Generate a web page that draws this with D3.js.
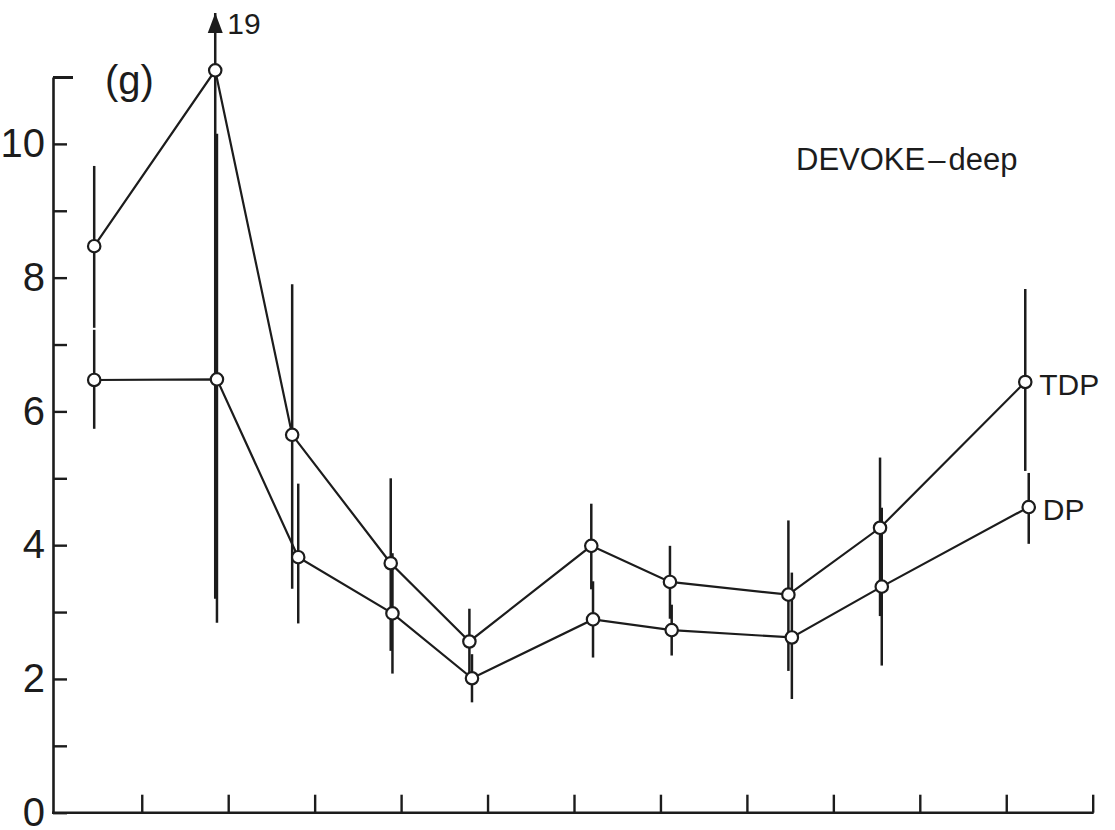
<!DOCTYPE html>
<html>
<head>
<meta charset="utf-8">
<script src="https://cdn.jsdelivr.net/npm/d3@7/dist/d3.min.js"></script>
<style>
  html, body { margin: 0; padding: 0; background: #ffffff; }
  svg { display: block; }
  text { font-family: "Liberation Sans", Arial, Helvetica, sans-serif; fill: #1c1c1c; }
</style>
</head>
<body>
<svg id="chart" width="1115" height="830"></svg>
<script>
// Sampling dates (position along the year axis, 0-12) for each series
const dateTDP = [0.45, 1.85, 2.74, 3.88, 4.79, 6.20, 7.11, 8.48, 9.54, 11.22];
const dateDP  = [0.45, 1.87, 2.81, 3.90, 4.82, 6.22, 7.13, 8.52, 9.56, 11.26];

// Mean values and the ends of their range bars
const tdp   = [8.47, 11.10, 5.65, 3.73, 2.56, 3.99, 3.45, 3.26, 4.26, 6.44];
const tdpHi = [9.67, 19.0, 7.90, 5.00, 3.05, 4.62, 3.99, 4.37, 5.31, 7.83];
const tdpLo = [7.25, 3.20, 3.35, 2.42, 2.05, 3.34, 2.90, 2.12, 2.94, 5.11];

const dp    = [6.47, 6.48, 3.82, 2.98, 2.01, 2.89, 2.73, 2.62, 3.38, 4.57];
const dpHi  = [7.22, 10.15, 4.92, 3.88, 2.37, 3.46, 3.11, 3.59, 4.56, 5.08];
const dpLo  = [5.74, 2.84, 2.83, 2.08, 1.65, 2.32, 2.35, 1.70, 2.20, 4.02];

// Axis ticks
const yTicks = [0, 1, 2, 3, 4, 5, 6, 7, 8, 9, 10, 11];
const yLabels = [0, 2, 4, 6, 8, 10];
const xTicks = [1, 2, 3, 4, 5, 6, 7, 8, 9, 10, 11, 12];

const seriesNames = ["TDP", "DP"];
const title = "DEVOKE";
const subtitle = "deep";
const unitLabel = "(g)";

const ink = "#1c1c1c";
const svg = d3.select("#chart");

const x = d3.scaleLinear().domain([0, 12]).range([55.3, 1092.7]);
const y = d3.scaleLinear().domain([0, 11]).range([812.7, 77]);
const yAxisX = 53;
const yCeil = y.invert(13);   // highest value that fits on the page

// ---- Y axis (ticks pointing inward, labels every 2) ----
const yAxis = d3.axisLeft(y)
  .tickValues(yTicks)
  .tickSizeInner(-14)
  .tickSizeOuter(0)
  .tickPadding(8)
  .tickFormat(d => yLabels.includes(d) ? d : "");

const gy = svg.append("g")
  .attr("transform", `translate(${yAxisX},0)`)
  .call(yAxis);
gy.select(".domain").attr("stroke", ink).attr("stroke-width", 2.6);
gy.selectAll(".tick line").attr("stroke", ink).attr("stroke-width", 2.4);
gy.selectAll(".tick")
  .filter(d => d === 11)
  .select("line").attr("x2", 20).attr("stroke-width", 3);
gy.selectAll(".tick text")
  .attr("font-size", 40)
  .attr("fill", ink)
  .style("font-family", "'Liberation Sans', Arial, sans-serif");

// ---- X axis (ticks pointing up, no labels) ----
const xAxis = d3.axisBottom(x)
  .tickValues(xTicks)
  .tickSizeInner(-18)
  .tickSizeOuter(0)
  .tickFormat("");
const gx = svg.append("g")
  .attr("transform", `translate(0,${y(0)})`)
  .call(xAxis);
gx.select(".domain")
  .attr("d", `M${yAxisX - 1},0H${x(12) + 1}`)
  .attr("stroke", ink).attr("stroke-width", 2.6);
gx.selectAll(".tick line").attr("stroke", ink).attr("stroke-width", 2.4);

// ---- Range bars ----
function bars(dates, lo, hi, cls) {
  const rows = dates.map((d, i) => ({ d, lo: lo[i], hi: hi[i] }));
  svg.append("g").attr("class", cls)
    .selectAll("line")
    .data(rows)
    .join("line")
    .attr("x1", r => x(r.d))
    .attr("x2", r => x(r.d))
    .attr("y1", r => y(r.lo))
    .attr("y2", r => y(Math.min(r.hi, yCeil)))
    .attr("stroke", ink)
    .attr("stroke-width", 2.5);
  // bars running off the top get an arrowhead and their value
  const over = rows.filter(r => r.hi > yCeil);
  const g = svg.append("g");
  over.forEach(r => {
    const cx = x(r.d), tip = y(yCeil);
    g.append("path")
      .attr("d", `M${cx},${tip}L${cx - 7.5},${tip + 20}L${cx + 7.5},${tip + 20}Z`)
      .attr("fill", ink);
    g.append("text")
      .attr("x", cx + 12)
      .attr("y", tip + 20.5)
      .attr("font-size", 30)
      .text(d3.format("d")(r.hi));
  });
}
bars(dateDP, dpLo, dpHi, "bars-dp");
bars(dateTDP, tdpLo, tdpHi, "bars-tdp");

// ---- Series lines and markers ----
const line = d3.line().x(p => x(p[0])).y(p => y(p[1]));
const tdpPts = dateTDP.map((d, i) => [d, tdp[i]]);
const dpPts = dateDP.map((d, i) => [d, dp[i]]);

[tdpPts, dpPts].forEach(pts => {
  svg.append("path")
    .datum(pts)
    .attr("d", line)
    .attr("fill", "none")
    .attr("stroke", ink)
    .attr("stroke-width", 2.2);
});
[tdpPts, dpPts].forEach(pts => {
  svg.append("g")
    .selectAll("circle")
    .data(pts)
    .join("circle")
    .attr("cx", p => x(p[0]))
    .attr("cy", p => y(p[1]))
    .attr("r", 6.2)
    .attr("fill", "#ffffff")
    .attr("stroke", ink)
    .attr("stroke-width", 2.2);
});

// ---- Series labels at the last point ----
[[tdpPts, seriesNames[0]], [dpPts, seriesNames[1]]].forEach(([pts, name]) => {
  const last = pts[pts.length - 1];
  svg.append("text")
    .attr("x", x(last[0]) + 14)
    .attr("y", y(last[1]) + 13)
    .attr("font-size", 30)
    .text(name);
});

// ---- Panel texts ----
svg.append("text")
  .attr("x", 105)
  .attr("y", 94)
  .attr("font-size", 40)
  .text(unitLabel);

const t = svg.append("text")
  .attr("x", 796)
  .attr("y", 170)
  .attr("font-size", 31);
t.append("tspan").text(title);
t.append("tspan").attr("dx", 3).text("\u2013");
t.append("tspan").attr("dx", 3).text(subtitle);
</script>
</body>
</html>
